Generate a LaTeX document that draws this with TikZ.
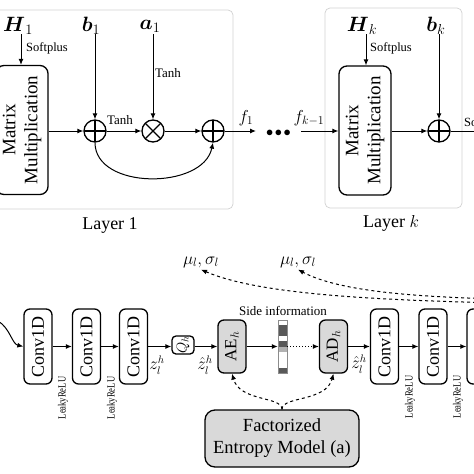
\documentclass[tikz,border=0pt]{standalone}
\usepackage{amsmath}
\usepackage{graphicx}
\usepackage{fontspec}
\setmainfont{Liberation Serif}
\usetikzlibrary{arrows.meta}
\definecolor{dk}{gray}{0.35}
\definecolor{lt}{gray}{0.7}
\definecolor{boxgray}{gray}{0.85}
\newcommand\fsz[2]{\fontsize{#1}{#2}\selectfont}
\newcommand\leakytext{\rotatebox{90}{\scalebox{0.78}[1]{LeakyReLU}}}
\begin{document}
\begin{tikzpicture}[x=1pt,y=-1pt,
  arr/.style={-{Latex[length=6pt,width=5pt]}, line width=1pt},
  blk/.style={draw, line width=1.3pt, rounded corners=6pt, inner sep=0pt},
  panel/.style={draw=black!18, line width=0.7pt, rounded corners=5pt},
  sumnode/.style={circle, draw, line width=1.3pt, minimum size=22pt, inner sep=0pt,
    path picture={\draw[line width=1.2pt] (path picture bounding box.north) -- (path picture bounding box.south) (path picture bounding box.west) -- (path picture bounding box.east);}},
  prodnode/.style={circle, draw, line width=1.3pt, minimum size=22pt, inner sep=0pt,
    path picture={\draw[line width=1.2pt] (path picture bounding box.north west) -- (path picture bounding box.south east) (path picture bounding box.south west) -- (path picture bounding box.north east);}},
  lbl/.style={inner sep=0pt},
  mm/.style={blk, rounded corners=8pt, minimum width=52pt, minimum height=129pt, font=\fsz{19}{22}},
  conv/.style={blk, minimum width=28pt, minimum height=75pt, font=\fsz{18}{20}},
  grayblk/.style={blk, fill=boxgray, minimum width=28pt, minimum height=53pt, font=\fsz{17}{20}},
  small/.style={lbl, font=\fsz{12.5}{14}},
  leaky/.style={lbl, font=\fsz{11}{12}},
]
\useasboundingbox (0,0) rectangle (474,474);
\clip (0,0) rectangle (474,474);

% ---------- top panels ----------
\draw[panel] (-18,10) rectangle (233,209);
\draw[panel] (325,8) rectangle (462,208);
\node[lbl, font=\fsz{18}{20}] (lay1) at (110,225) {Layer 1};
\node[lbl, font=\fsz{18}{20}] (layk) at (391,223) {Layer $k$};

% layer 1
\node[mm] (mm1) at (22,130) {\rotatebox{90}{\begin{tabular}{@{}c@{}}Matrix\\Multiplication\end{tabular}}};
\node[lbl, font=\fsz{20}{22}] (H1) at (18,26) {$\boldsymbol{H}_1$};
\node[lbl, font=\fsz{20}{22}] (b1) at (91,26) {$\boldsymbol{b}_1$};
\node[lbl, font=\fsz{20}{22}] (a1) at (150,26) {$\boldsymbol{a}_1$};
\coordinate (h1a) at (21,34);
\coordinate (b1a) at (95,34);
\coordinate (a1a) at (153,34);
\node[small] (sp1) at (47,48) {Softplus};
\node[sumnode] (p1) at (95,131) {};
\node[prodnode] (m1) at (153,131) {};
\node[sumnode] (p2) at (213,131) {};
\node[lbl, font=\fsz{13}{14}] (t1) at (120,120) {Tanh};
\node[lbl, font=\fsz{13}{14}] (t2) at (168,73) {Tanh};

\draw[arr] (h1a) -- (h1a |- mm1.north);
\draw[arr] (b1a) -- (p1.north);
\draw[arr] (a1a) -- (m1.north);
\draw[arr] (mm1.east |- p1.west) -- (p1.west);
\draw[arr] (p1.east) -- (m1.west);
\draw[arr] (m1.east) -- (p2.west);
\draw[arr] (p1.south) .. controls (95,190) and (203,190) .. (p2.south);

% between
\node[lbl, inner xsep=10pt, font=\fsz{14}{14}] (dots) at (278.5,133) {${\bullet}\hspace{1.5pt}{\bullet}\hspace{1.5pt}{\bullet}$};
\node[lbl, font=\fsz{18}{20}] (f1) at (246,118) {$f_1$};
\node[lbl, font=\fsz{18}{20}] (fk) at (309,118) {$f_{k-1}$};
\draw[arr] (p2.east) -- (dots.west |- p2.east);

% layer k
\node[mm] (mmk) at (365,130.5) {\rotatebox{90}{\begin{tabular}{@{}c@{}}Matrix\\Multiplication\end{tabular}}};
\node[lbl, font=\fsz{20}{22}] (Hk) at (362,26) {$\boldsymbol{H}_k$};
\node[lbl, font=\fsz{20}{22}] (bk) at (436,26) {$\boldsymbol{b}_k$};
\coordinate (hka) at (366,34);
\coordinate (bka) at (439,34);
\node[small] (spk) at (391,48) {Softplus};
\node[sumnode] (pk) at (439,131) {};
\node[small, anchor=west] (spout) at (464,123) {Softplus};
\coordinate (outk) at (480,131);
\draw[arr] (dots.east |- pk.west) -- (mmk.west |- pk.west);
\draw[arr] (hka) -- (hka |- mmk.north);
\draw[arr] (bka) -- (pk.north);
\draw[arr] (mmk.east |- pk.west) -- (pk.west);
\draw[line width=1pt] (pk.east) -- (outk);

% ---------- bottom pipeline ----------
\node[conv] (cv1) at (38,346.5) {\rotatebox{90}{Conv1D}};
\node[conv] (cv2) at (86.5,346.5) {\rotatebox{90}{Conv1D}};
\node[conv] (cv3) at (133.5,346.5) {\rotatebox{90}{Conv1D}};
\node[blk, rounded corners=4pt, minimum width=22pt, minimum height=18pt, font=\fsz{14}{16}] (q) at (183,345) {\rotatebox{90}{$Q_h$}};
\node[grayblk] (ae) at (232,346.5) {\rotatebox{90}{AE$_h$}};
\node[draw=black!45, line width=0.5pt, minimum width=9pt, minimum height=53pt, inner sep=0pt] (bar) at (282.5,346.5) {};
\node[grayblk] (ad) at (333.5,346.5) {\rotatebox{90}{AD$_h$}};
\node[conv] (cv4) at (384.5,346.5) {\rotatebox{90}{Conv1D}};
\node[conv] (cv5) at (433,346.5) {\rotatebox{90}{Conv1D}};
\node[conv] (cv6) at (481,346.5) {\rotatebox{90}{Conv1D}};

% bar cells
\foreach \c [count=\i from 0] in {white,dk,dk,white,dk,lt,white,white,white,dk}
  \fill[\c] (278,{320+\i*5.3}) rectangle (287,{325.3+\i*5.3});
\draw[black!45, line width=0.5pt] (bar.north west) rectangle (bar.south east);

\coordinate (inl) at (-2,321);
\draw[arr] (inl) .. controls (10,328) and (12,344) .. (cv1.west);
\draw[arr] (cv1.east) -- (cv2.west);
\draw[arr] (cv2.east) -- (cv3.west);
\draw[arr] (cv3.east) -- (q.west |- cv3.east);
\draw[arr] (q.east |- ae.west) -- (ae.west);
\draw[arr] (ae.east) -- (bar.west);
\draw[arr, dotted] (bar.east) -- (ad.west);
\draw[arr] (ad.east) -- (cv4.west);
\draw[arr] (cv4.east) -- (cv5.west);
\draw[arr] (cv5.east) -- (cv6.west);

\node[leaky] (lr1) at (63,398) {\leakytext};
\node[leaky] (lr2) at (112,398) {\leakytext};
\node[leaky] (lr3) at (410,397) {\leakytext};
\node[leaky] (lr4) at (458,397) {\leakytext};

\node[lbl, font=\fsz{16}{18}] (z1) at (157,365) {$z_l^h$};
\node[lbl, font=\fsz{16}{18}] (z2) at (205,365) {$\hat z_l^h$};
\node[lbl, font=\fsz{16}{18}] (z3) at (359,364) {$\hat z_l^h$};
\node[lbl, font=\fsz{13}{14}] (side) at (283,311) {Side information};

% entropy model
\node[blk, rounded corners=10pt, fill=boxgray, minimum width=154pt, minimum height=57pt, align=center, font=\fsz{18.5}{22}] (fem) at (282,438.5) {Factorized\\Entropy Model (a)};
\draw[arr, dashed] (fem.north) .. controls (282,396) and (240,402) .. (ae.south);
\draw[arr, dashed] (fem.north) .. controls (282,396) and (326,402) .. (ad.south);

% mu sigma
\node[lbl, font=\fsz{17}{18}] (mu1) at (201,262) {$\mu_l,\sigma_l$};
\node[lbl, font=\fsz{17}{18}] (mu2) at (298,262) {$\mu_l,\sigma_l$};
\coordinate (src1) at (500,303);
\coordinate (src2) at (500,299);
\draw[arr, dashed] (src1) .. controls (380,300) and (260,295) .. ([yshift=-2pt]mu1.south);
\draw[arr, dashed] (src2) .. controls (420,297) and (340,292) .. ([yshift=-2pt]mu2.south);
\end{tikzpicture}
\end{document}
